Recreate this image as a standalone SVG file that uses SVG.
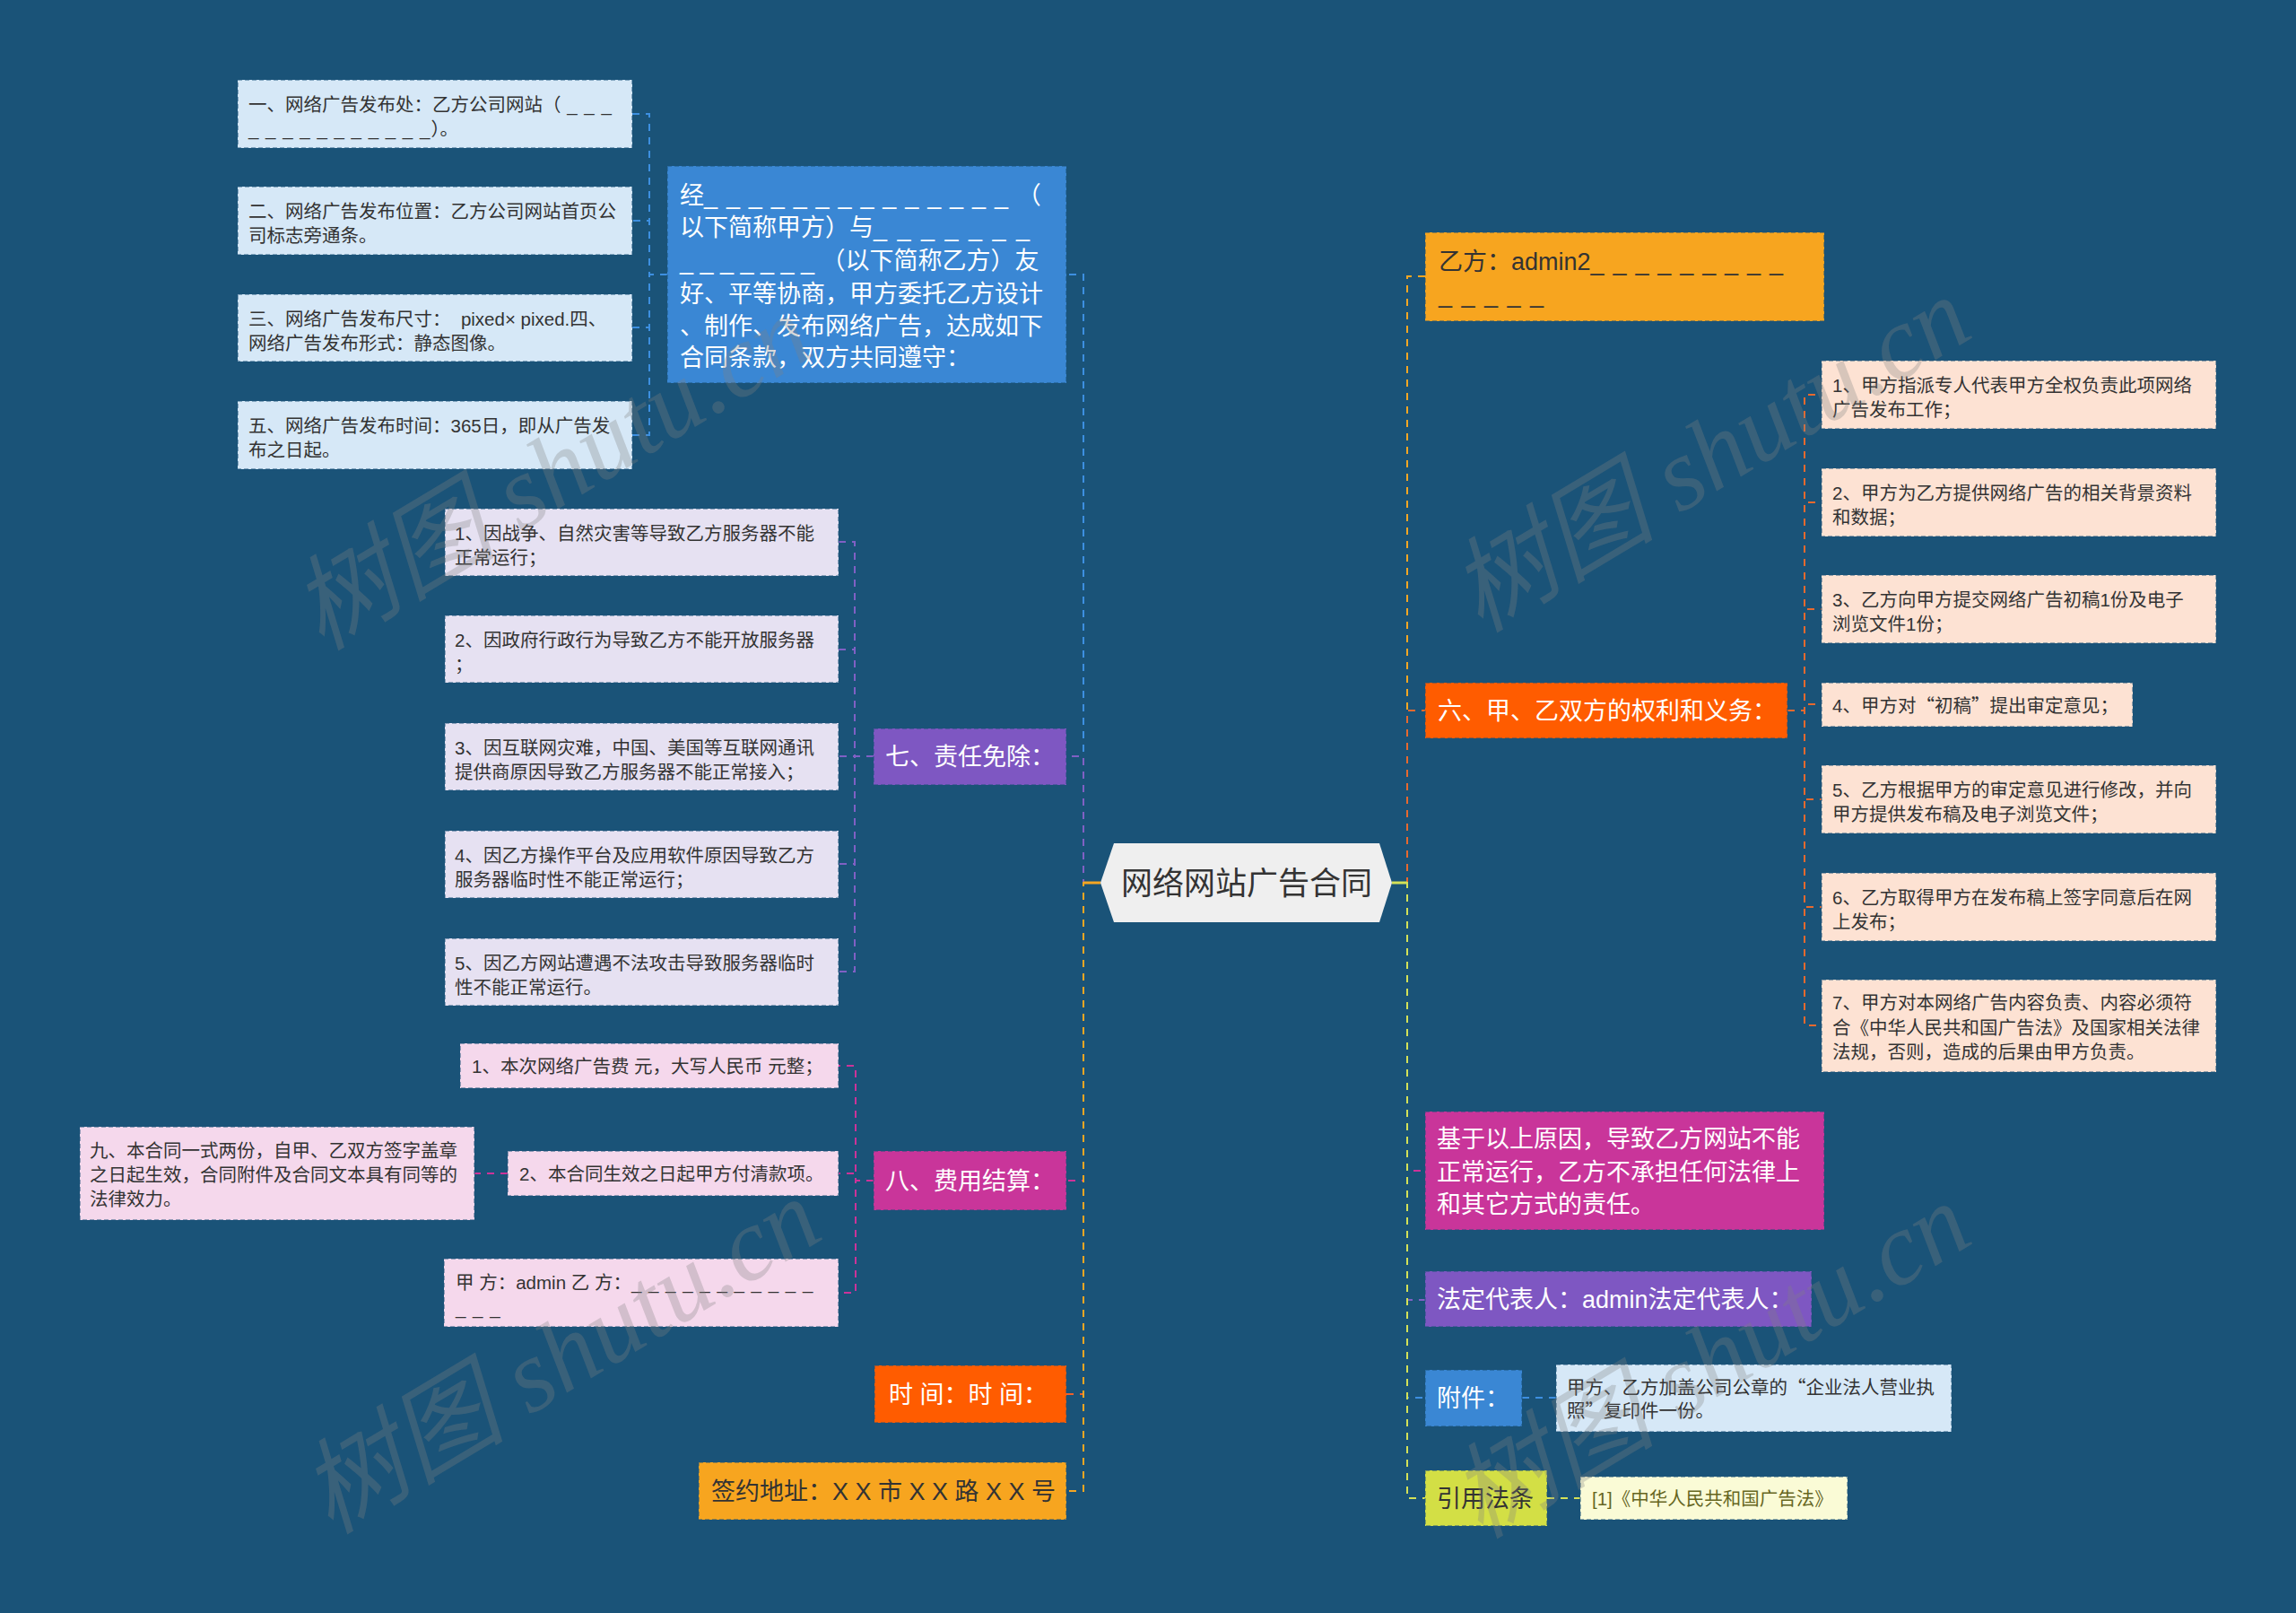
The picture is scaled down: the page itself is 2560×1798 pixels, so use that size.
<svg xmlns="http://www.w3.org/2000/svg" width="2560" height="1798" viewBox="0 0 2560 1798">
<defs>
<style>
.t{font-family:"Liberation Sans","Noto Sans CJK SC",sans-serif;}
.s{font-size:20.5px;fill:#333;}
.m{font-size:27px;fill:#fff;}
.md{font-size:27px;fill:#333;}
.u1{letter-spacing:1px;}
.u2{letter-spacing:2px;}
.q{font-family:"Noto Sans CJK SC",sans-serif;}
.box{stroke:#1a5378;stroke-opacity:.45;stroke-width:2;stroke-dasharray:5 3;}
.c{fill:none;stroke-width:2;stroke-dasharray:8 7;}
.lb{fill:#d6e8f7;}
.lv{fill:#e6e1f2;}
.pk{fill:#f5d8ec;}
.pc{fill:#fde2d3;}
.wm{font-family:"Liberation Serif","Noto Sans CJK SC",serif;font-style:italic;font-size:115px;fill:#808080;fill-opacity:.3;}
</style>
</defs>
<rect width="2560" height="1798" fill="#1a5378"/>

<g id="connectors">
<path class="c" stroke="#3d8fe0" d="M1227 984H1208V306H1189"/>
<path class="c" stroke="#8060c4" d="M1227 984H1208V843H1189"/>
<path class="c" stroke="#cc3399" d="M1227 984H1208V1316H1189"/>
<path class="c" stroke="#f0602a" d="M1227 984H1208V1554H1189"/>
<path class="c" stroke="#f5a623" d="M1227 984H1208V1662H1189"/>
<path fill="none" stroke="#f5a623" stroke-width="3" d="M1227 984H1208"/>
<path class="c" stroke="#f5a623" d="M1552 984H1569V308H1589"/>
<path class="c" stroke="#e8692e" d="M1552 984H1569V792H1589"/>
<path class="c" stroke="#cc3399" d="M1552 984H1569V1305H1589"/>
<path class="c" stroke="#8060c4" d="M1552 984H1569V1449H1589"/>
<path class="c" stroke="#3d8fe0" d="M1552 984H1569V1558H1589"/>
<path class="c" stroke="#d4e157" d="M1552 984H1569V1670H1589"/>
<path fill="none" stroke="#d4e157" stroke-width="3" d="M1552 984H1569"/>
<path class="c" stroke="#3d8fe0" d="M744 306H724V127H705"/>
<path class="c" stroke="#3d8fe0" d="M744 306H724V246H705"/>
<path class="c" stroke="#3d8fe0" d="M744 306H724V365H705"/>
<path class="c" stroke="#3d8fe0" d="M744 306H724V485H705"/>
<path class="c" stroke="#8060c4" d="M974 843H953V604H935"/>
<path class="c" stroke="#8060c4" d="M974 843H953V724H935"/>
<path class="c" stroke="#8060c4" d="M974 843H953V843H935"/>
<path class="c" stroke="#8060c4" d="M974 843H953V963H935"/>
<path class="c" stroke="#8060c4" d="M974 843H953V1083H935"/>
<path class="c" stroke="#cc3399" d="M974 1316H954V1188H935"/>
<path class="c" stroke="#cc3399" d="M974 1316H954V1308H935"/>
<path class="c" stroke="#cc3399" d="M974 1316H954V1441H935"/>
<path class="c" stroke="#cc3399" d="M566 1308H529"/>
<path class="c" stroke="#e8692e" d="M1993 792H2012V440H2031"/>
<path class="c" stroke="#e8692e" d="M1993 792H2012V560H2031"/>
<path class="c" stroke="#e8692e" d="M1993 792H2012V679H2031"/>
<path class="c" stroke="#e8692e" d="M1993 792H2012V785H2031"/>
<path class="c" stroke="#e8692e" d="M1993 792H2012V891H2031"/>
<path class="c" stroke="#e8692e" d="M1993 792H2012V1011H2031"/>
<path class="c" stroke="#e8692e" d="M1993 792H2012V1143H2031"/>
<path class="c" stroke="#3d8fe0" d="M1697 1558H1735"/>
<path class="c" stroke="#d4e157" d="M1725 1670H1762"/>
</g>

<g id="root">
<polygon points="1227,984 1242,940 1538,940 1552,984 1538,1028 1242,1028" fill="#efefef"/>
<text class="t" x="1390" y="997" font-size="35" fill="#333" text-anchor="middle">网络网站广告合同</text>
</g>

<g id="intro">
<rect class="box" x="744" y="185" width="445" height="242" fill="#3a87d4"/>
<text class="t m" x="758" y="227">经<tspan style="letter-spacing:1.2px">_ _ _ _ _ _ _ _ _ _ _ _ _ _ </tspan>（</text>
<text class="t m" x="758" y="263">以下简称甲方）与<tspan class="u2">_ _ _ _ _ _ _</tspan></text>
<text class="t m" x="758" y="300">_ _ _ _ _ _ _ （以下简称乙方）友</text>
<text class="t m" x="758" y="337">好、平等协商，甲方委托乙方设计</text>
<text class="t m" x="758" y="373">、制作、发布网络广告，达成如下</text>
<text class="t m" x="758" y="408">合同条款，双方共同遵守：</text>
</g>

<g id="intro-1">
<rect class="box lb" x="265" y="89" width="440" height="76"/>
<text class="t s" x="277" y="124">一、网络广告发布处：乙方公司网站（<tspan class="u1"> _ _ _</tspan></text>
<text class="t s" x="277" y="151"><tspan class="u1">_ _ _ _ _ _ _ _ _ _ _</tspan>）。</text>
</g>
<g id="intro-2">
<rect class="box lb" x="265" y="208" width="440" height="76"/>
<text class="t s" x="277" y="243">二、网络广告发布位置：乙方公司网站首页公</text>
<text class="t s" x="277" y="270">司标志旁通条。</text>
</g>
<g id="intro-3">
<rect class="box lb" x="265" y="328" width="440" height="75"/>
<text class="t s" x="277" y="363" xml:space="preserve">三、网络广告发布尺寸：  pixed× pixed.四、</text>
<text class="t s" x="277" y="390">网络广告发布形式：静态图像。</text>
</g>
<g id="intro-5">
<rect class="box lb" x="265" y="447" width="440" height="76"/>
<text class="t s" x="277" y="482">五、网络广告发布时间：365日，即从广告发</text>
<text class="t s" x="277" y="509">布之日起。</text>
</g>

<g id="n7">
<rect class="box" x="974" y="812" width="215" height="63" fill="#7e57c2"/>
<text class="t m" x="987" y="853">七、责任免除：</text>
</g>
<g id="n7-1">
<rect class="box lv" x="496" y="567" width="439" height="75"/>
<text class="t s" x="507" y="602">1、因战争、自然灾害等导致乙方服务器不能</text>
<text class="t s" x="507" y="629">正常运行；</text>
</g>
<g id="n7-2">
<rect class="box lv" x="496" y="686" width="439" height="75"/>
<text class="t s" x="507" y="721">2、因政府行政行为导致乙方不能开放服务器</text>
<text class="t s" x="507" y="748">；</text>
</g>
<g id="n7-3">
<rect class="box lv" x="496" y="806" width="439" height="75"/>
<text class="t s" x="507" y="841">3、因互联网灾难，中国、美国等互联网通讯</text>
<text class="t s" x="507" y="868">提供商原因导致乙方服务器不能正常接入；</text>
</g>
<g id="n7-4">
<rect class="box lv" x="496" y="926" width="439" height="75"/>
<text class="t s" x="507" y="961">4、因乙方操作平台及应用软件原因导致乙方</text>
<text class="t s" x="507" y="988">服务器临时性不能正常运行；</text>
</g>
<g id="n7-5">
<rect class="box lv" x="496" y="1046" width="439" height="75"/>
<text class="t s" x="507" y="1081">5、因乙方网站遭遇不法攻击导致服务器临时</text>
<text class="t s" x="507" y="1108">性不能正常运行。</text>
</g>

<g id="n8">
<rect class="box" x="974" y="1283" width="215" height="66" fill="#c9359a"/>
<text class="t m" x="987" y="1326">八、费用结算：</text>
</g>
<g id="n8-1">
<rect class="box pk" x="513" y="1163" width="422" height="50"/>
<text class="t s" x="526" y="1196">1、本次网络广告费 元，大写人民币 元整；</text>
</g>
<g id="n8-2">
<rect class="box pk" x="566" y="1283" width="369" height="50"/>
<text class="t s" x="579" y="1316">2、本合同生效之日起甲方付清款项。</text>
</g>
<g id="n9">
<rect class="box pk" x="89" y="1256" width="440" height="104"/>
<text class="t s" x="100" y="1290">九、本合同一式两份，自甲、乙双方签字盖章</text>
<text class="t s" x="100" y="1317">之日起生效，合同附件及合同文本具有同等的</text>
<text class="t s" x="100" y="1344">法律效力。</text>
</g>
<g id="n8-3">
<rect class="box pk" x="495" y="1403" width="440" height="76"/>
<text class="t s" x="508" y="1437">甲 方：admin 乙 方：<tspan class="u1">_ _ _ _ _ _ _ _ _ _ _</tspan></text>
<text class="t s" x="508" y="1465"><tspan class="u1">_ _ _</tspan></text>
</g>

<g id="time">
<rect class="box" x="975" y="1522" width="214" height="64" fill="#ff5c00"/>
<text class="t m" x="991" y="1564">时 间：时 间：</text>
</g>
<g id="address">
<rect class="box" x="779" y="1630" width="410" height="64" fill="#f7a51f"/>
<text class="t md" x="793" y="1672">签约地址：X X 市 X X 路 X X 号</text>
</g>

<g id="partyB">
<rect class="box" x="1589" y="259" width="445" height="99" fill="#f7a51f"/>
<text class="t md" x="1604" y="301">乙方：admin2<tspan style="letter-spacing:1.2px">_ _ _ _ _ _ _ _ _</tspan></text>
<text class="t md" x="1604" y="337"><tspan style="letter-spacing:1.5px">_ _ _ _ _</tspan></text>
</g>

<g id="n6">
<rect class="box" x="1589" y="761" width="404" height="62" fill="#ff5c00"/>
<text class="t m" x="1603" y="802">六、甲、乙双方的权利和义务：</text>
</g>
<g id="n6-1">
<rect class="box pc" x="2031" y="402" width="440" height="76"/>
<text class="t s" x="2043" y="437">1、甲方指派专人代表甲方全权负责此项网络</text>
<text class="t s" x="2043" y="464">广告发布工作；</text>
</g>
<g id="n6-2">
<rect class="box pc" x="2031" y="522" width="440" height="76"/>
<text class="t s" x="2043" y="557">2、甲方为乙方提供网络广告的相关背景资料</text>
<text class="t s" x="2043" y="584">和数据；</text>
</g>
<g id="n6-3">
<rect class="box pc" x="2031" y="641" width="440" height="76"/>
<text class="t s" x="2043" y="676">3、乙方向甲方提交网络广告初稿1份及电子</text>
<text class="t s" x="2043" y="703">浏览文件1份；</text>
</g>
<g id="n6-4">
<rect class="box pc" x="2031" y="761" width="347" height="49"/>
<text class="t s" x="2043" y="794">4、甲方对<tspan class="q">“</tspan>初稿<tspan class="q">”</tspan>提出审定意见；</text>
</g>
<g id="n6-5">
<rect class="box pc" x="2031" y="853" width="440" height="76"/>
<text class="t s" x="2043" y="888">5、乙方根据甲方的审定意见进行修改，并向</text>
<text class="t s" x="2043" y="915">甲方提供发布稿及电子浏览文件；</text>
</g>
<g id="n6-6">
<rect class="box pc" x="2031" y="973" width="440" height="76"/>
<text class="t s" x="2043" y="1008">6、乙方取得甲方在发布稿上签字同意后在网</text>
<text class="t s" x="2043" y="1035">上发布；</text>
</g>
<g id="n6-7">
<rect class="box pc" x="2031" y="1092" width="440" height="103"/>
<text class="t s" x="2043" y="1125">7、甲方对本网络广告内容负责、内容必须符</text>
<text class="t s" x="2043" y="1153">合《中华人民共和国广告法》及国家相关法律</text>
<text class="t s" x="2043" y="1180">法规，否则，造成的后果由甲方负责。</text>
</g>

<g id="reason">
<rect class="box" x="1589" y="1239" width="445" height="132" fill="#c9359a"/>
<text class="t m" x="1602" y="1279">基于以上原因，导致乙方网站不能</text>
<text class="t m" x="1602" y="1316">正常运行，乙方不承担任何法律上</text>
<text class="t m" x="1602" y="1352">和其它方式的责任。</text>
</g>
<g id="legal">
<rect class="box" x="1589" y="1417" width="431" height="62" fill="#7e57c2"/>
<text class="t m" x="1602" y="1458">法定代表人：admin法定代表人：</text>
</g>
<g id="attach">
<rect class="box" x="1589" y="1527" width="108" height="63" fill="#3a87d4"/>
<text class="t m" x="1602" y="1568">附件：</text>
</g>
<g id="attach-1">
<rect class="box lb" x="1735" y="1521" width="441" height="75"/>
<text class="t s" x="1747" y="1554">甲方、乙方加盖公司公章的<tspan class="q">“</tspan>企业法人营业执</text>
<text class="t s" x="1747" y="1580">照<tspan class="q">”</tspan>复印件一份。</text>
</g>
<g id="law">
<rect class="box" x="1589" y="1639" width="136" height="62" fill="#d3df45"/>
<text class="t md" x="1602" y="1680">引用法条</text>
</g>
<g id="law-1">
<rect class="box" x="1762" y="1646" width="298" height="48" fill="#fafbd6"/>
<text class="t" x="1775" y="1678" font-size="20.5" fill="#66661f">[1]《中华人民共和国广告法》</text>
</g>

<g id="watermark" class="wm">
<text x="635" y="560" text-anchor="middle" transform="rotate(-31 635 560)">树图 shutu.cn</text>
<text x="1927" y="540" text-anchor="middle" transform="rotate(-31 1927 540)">树图 shutu.cn</text>
<text x="645" y="1545" text-anchor="middle" transform="rotate(-31 645 1545)">树图 shutu.cn</text>
<text x="1927" y="1550" text-anchor="middle" transform="rotate(-31 1927 1550)">树图 shutu.cn</text>
</g>
</svg>
